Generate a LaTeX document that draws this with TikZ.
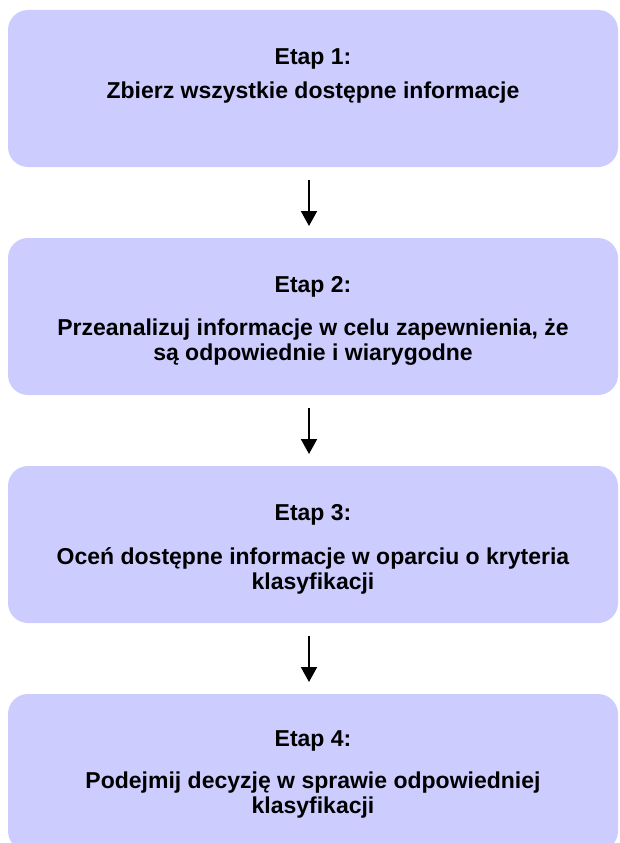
\documentclass[tikz,border=0pt]{standalone}
\usepackage{fontspec}
\setmainfont{Liberation Sans}
\usetikzlibrary{arrows.meta}
\definecolor{stagefill}{HTML}{CCCCFF}
\begin{document}
\begin{tikzpicture}[x=1pt,y=-1pt,
  stagebox/.style={draw=none, fill=stagefill, rounded corners=20pt,
    minimum width=610pt, minimum height=157pt, inner sep=0pt, outer sep=0pt},
  stagetext/.style={font=\bfseries\fontsize{23}{25}\selectfont,
    anchor=base, inner sep=0pt},
  flow/.style={line width=2pt, -{Triangle[width=16pt,length=15pt]},
    shorten <=13pt, shorten >=12pt}]
\useasboundingbox (0,0) rectangle (620,843);
\clip (0,0) rectangle (620,843);

% stage boxes
\node[stagebox] (s1) at (313,88.5) {};
\node[stagebox] (s2) at (313,316.5) {};
\node[stagebox] (s3) at (313,544.5) {};
\node[stagebox] (s4) at (313,772.5) {};

% stage 1
\node[stagetext] (t1) at (313,65) {Etap 1:};
\node[stagetext] (d1) at (313,99) {Zbierz wszystkie dostępne informacje};

% stage 2
\node[stagetext] (t2) at (313,292) {Etap 2:};
\node[stagetext] (d2a) at (313,335.5) {Przeanalizuj informacje w celu zapewnienia, że};
\node[stagetext] (d2b) at (313,360.5) {są odpowiednie i wiarygodne};

% stage 3
\node[stagetext] (t3) at (313,520.7) {Etap 3:};
\node[stagetext] (d3a) at (313,564.3) {Oceń dostępne informacje w oparciu o kryteria};
\node[stagetext] (d3b) at (313,589) {klasyfikacji};

% stage 4
\node[stagetext] (t4) at (313,746) {Etap 4:};
\node[stagetext] (d4a) at (313,788) {Podejmij decyzję w sprawie odpowiedniej};
\node[stagetext] (d4b) at (313,813) {klasyfikacji};

% flow arrows between stages
\draw[flow] ([xshift=-4pt]s1.south) -- ([xshift=-4pt]s2.north);
\draw[flow] ([xshift=-4pt]s2.south) -- ([xshift=-4pt]s3.north);
\draw[flow] ([xshift=-4pt]s3.south) -- ([xshift=-4pt]s4.north);
\end{tikzpicture}
\end{document}
